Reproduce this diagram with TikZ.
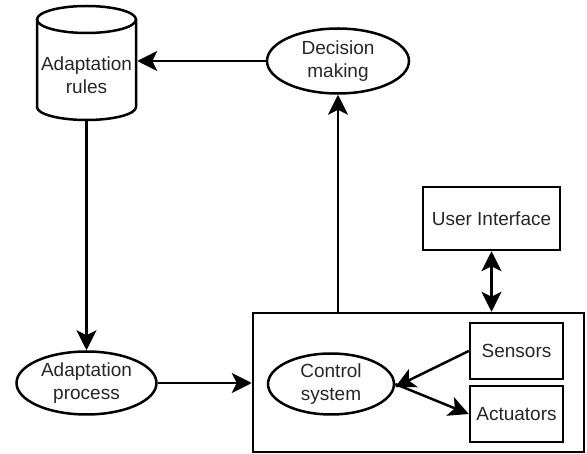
\documentclass[tikz,border=0pt]{standalone}
\usepackage{fontspec}
\setmainfont{Liberation Sans}
\usetikzlibrary{shapes.geometric,arrows.meta}
\begin{document}
\begin{tikzpicture}[x=1pt,y=-1pt,
  line width=2.5pt,
  every node/.style={font=\fontsize{19}{23}\selectfont, text=black!85, align=center, inner sep=0pt},
  oval/.style={ellipse, draw},
  boxx/.style={rectangle, draw},
  tip/.tip={Stealth[length=20pt,width=20pt,inset=5pt]},
  arr/.style={-tip},
  darr/.style={tip-tip}
]
\useasboundingbox (0,0) rectangle (587,454);
% cylinder
\draw (86.5,19.5) ellipse [x radius=49.5pt, y radius=13.5pt];
\draw (37,19.5) -- (37,107) arc[start angle=180, end angle=360, x radius=49.5pt, y radius=13pt] -- (136,19.5);
\node[minimum width=99pt, minimum height=114pt] (rules) at (86.5,63) {};
\node (rulestxt) at (86.5,75) {Adaptation\\rules};

\node[oval, minimum width=142pt, minimum height=65pt] (dec) at (338,61) {Decision\\making};
\node[oval, minimum width=140pt, minimum height=63pt] (proc) at (86.5,383) {Adaptation\\process};
\node[boxx, minimum width=331pt, minimum height=139pt] (ctrl) at (418.5,382.5) {};
\node[oval, minimum width=126pt, minimum height=61pt] (cs) at (331,384) {Control\\system};
\node[boxx, minimum width=137pt, minimum height=63pt] (ui) at (491.5,218.5) {User Interface};
\node[boxx, minimum width=93pt, minimum height=56pt] (sens) at (516.5,351) {Sensors};
\node[boxx, minimum width=93pt, minimum height=56pt] (act) at (516.5,414) {Actuators};

\draw[arr] (dec.west) -- (dec.west -| rules.east);
\draw[arr] (rules.south) -- (proc.north);
\draw[arr] (proc.east) -- (proc.east -| ctrl.west);
\draw[arr] (dec.south |- ctrl.north) -- (dec.south);
\draw[darr] (ui.south) -- (ui.south |- ctrl.north);
\draw[arr] (sens.west) -- ([yshift=-3pt]cs.east);
\draw[arr] (cs.east) -- (act.west);
\end{tikzpicture}
\end{document}
